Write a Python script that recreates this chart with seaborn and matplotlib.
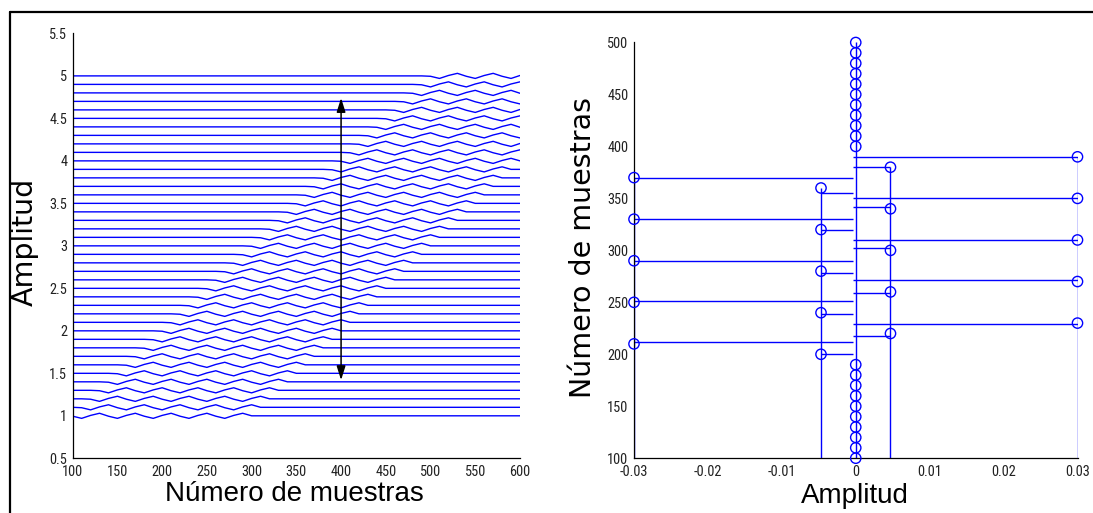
import numpy as np
import pandas as pd
import matplotlib
matplotlib.use("Agg")
import matplotlib.pyplot as plt
from matplotlib.lines import Line2D
from matplotlib import font_manager as fm
import seaborn as sns

# ---------------- data ----------------
# right panel: sampled signal (sample number -> amplitude)
sample_n = [100, 110, 120, 130, 140, 150, 160, 170, 180, 190,
            200, 210, 220, 230, 240, 250, 260, 270, 280, 290,
            300, 310, 320, 330, 340, 350, 360, 370, 380, 390,
            400, 410, 420, 430, 440, 450, 460, 470, 480, 490, 500]
sample_amp = [0, 0, 0, 0, 0, 0, 0, 0, 0, 0,
              -0.0047, -0.03, 0.0047, 0.03, -0.0047, -0.03, 0.0047, 0.03, -0.0047, -0.03,
              0.0047, 0.03, -0.0047, -0.03, 0.0047, 0.03, -0.0047, -0.03, 0.0047, 0.03,
              0, 0, 0, 0, 0, 0, 0, 0, 0, 0, 0]
# vertical position of the horizontal stems drawn for the non-zero samples
stem_line_y = [200, 212, 218, 229, 239, 251, 259, 271, 278.5, 290,
               302.5, 310, 320, 330, 342, 350, 355, 370, 380, 390]

# left panel: delayed copies of the signal, one per level
trace_level = [1.0, 1.1, 1.2, 1.3, 1.4, 1.5, 1.6, 1.7, 1.8, 1.9,
               2.0, 2.1, 2.2, 2.3, 2.4, 2.5, 2.6, 2.7, 2.8, 2.9,
               3.0, 3.1, 3.2, 3.3, 3.4, 3.5, 3.6, 3.7, 3.8, 3.9,
               4.0, 4.1, 4.2, 4.3, 4.4, 4.5, 4.6, 4.7, 4.8, 4.9, 5.0]
trace_start = [100, 110, 120, 130, 140, 150, 160, 170, 180, 190,
               200, 210, 220, 230, 240, 250, 260, 270, 280, 290,
               300, 310, 320, 330, 340, 350, 360, 370, 380, 390,
               400, 410, 420, 430, 440, 450, 460, 470, 480, 490, 500]
left_x_grid = list(range(100, 601, 10))
signal_first_n = 200   # first non-zero sample of the signal

arrow_x = 400
arrow_y = [1.42, 4.74]

left_xticks = [100, 150, 200, 250, 300, 350, 400, 450, 500, 550, 600]
left_yticks = [0.5, 1, 1.5, 2, 2.5, 3, 3.5, 4, 4.5, 5, 5.5]
left_yticklabels = ["0.5", "1", "1.5", "2", "2.5", "3", "3.5", "4", "4.5", "5", "5.5"]
right_xticks = [-0.03, -0.02, -0.01, 0, 0.01, 0.02, 0.03]
right_xticklabels = ["-0.03", "-0.02", "-0.01", "0", "0.01", "0.02", "0.03"]
right_yticks = [100, 150, 200, 250, 300, 350, 400, 450, 500]

xlabel_left = "Número de muestras"
ylabel_left = "Amplitud"
xlabel_right = "Amplitud"
ylabel_right = "Número de muestras"

# ---------------- build tables ----------------
amp_lookup = dict(zip(sample_n, sample_amp))
rows = []
for k, (lvl, st) in enumerate(zip(trace_level, trace_start)):
    for x in left_x_grid:
        m = x - st + signal_first_n
        rows.append({"line": k, "n": x, "y": lvl + amp_lookup.get(m, 0.0)})
df_left = pd.DataFrame(rows)

df_right = pd.DataFrame({"n": sample_n, "amp": sample_amp})
nz = df_right[df_right["amp"] != 0].reset_index(drop=True)
nz["stem_y"] = stem_line_y

# ---------------- style ----------------
sns.set_theme(style="white")
plt.rcParams["font.family"] = ["Liberation Sans", "DejaVu Sans"]
plt.rcParams["axes.linewidth"] = 0.9

# look for a narrow / condensed sans for the tick labels
def find_narrow():
    prefs = []
    for f in fm.fontManager.ttflist:
        nm = f.name
        st = str(f.stretch)
        is_narrow = ("Narrow" in nm or "Condensed" in nm or "Cond" in nm or
                     st in ("condensed", "semi-condensed", "extra-condensed", "ultra-condensed")
                     or (st.isdigit() and int(st) < 500))
        if not is_narrow or f.style != "normal":
            continue
        w = f.weight if isinstance(f.weight, int) else 400
        if w not in (400, "normal") and w != 400:
            continue
        rank = 5
        if "Liberation Sans Narrow" in nm:
            rank = 0
        elif "Arial" in nm:
            rank = 1
        elif "Roboto" in nm:
            rank = 2
        elif "DejaVu Sans" in nm:
            rank = 3
        elif "Open Sans" in nm or "Noto Sans" in nm:
            rank = 4
        prefs.append((rank, f.fname))
    if prefs:
        prefs.sort()
        return prefs[0][1]
    return None

narrow_path = find_narrow()
if narrow_path:
    tick_fp = fm.FontProperties(fname=narrow_path, size=10.4)
else:
    tick_fp = fm.FontProperties(family=["Liberation Sans", "DejaVu Sans"], size=10.0)

BLUE = (0, 0, 1)
W, H = 1093, 513
fig = plt.figure(figsize=(W / 100, H / 100), dpi=100)
fig.patch.set_facecolor("white")

def px_axes(l, t, r, b):
    return fig.add_axes([l / W, 1 - b / H, (r - l) / W, (b - t) / H])

axL = px_axes(72.7, 33.4, 520, 458.3)
axR = px_axes(634, 42.5, 1077.5, 458.2)

# ---------------- left panel ----------------
sns.lineplot(data=df_left, x="n", y="y", units="line", estimator=None,
             color=BLUE, lw=1.0, ax=axL, legend=False)
axL.annotate("", xy=(arrow_x, arrow_y[1]), xytext=(arrow_x, arrow_y[0]),
             arrowprops=dict(arrowstyle="<|-|>,head_length=0.7,head_width=0.22",
                             color="black", lw=1.1, shrinkA=0, shrinkB=0))
axL.set_xlim(100, 600)
axL.set_ylim(0.5, 5.5)
axL.set_xticks(left_xticks)
axL.set_xticklabels([str(t) for t in left_xticks])
axL.set_yticks(left_yticks)
axL.set_yticklabels(left_yticklabels)

# ---------------- right panel ----------------
base_top = max(sample_n)
axR.vlines(0, min(sample_n), base_top, color=BLUE, lw=1.0)
for v in sorted(set(a for a in sample_amp if a != 0)):
    top = max(n for n, a in zip(sample_n, sample_amp) if a == v)
    axR.vlines(v, min(sample_n), top, color=BLUE, lw=1.0)
axR.hlines(nz["stem_y"], nz["amp"], -0.0004, color=BLUE, lw=1.0)
sns.scatterplot(data=df_right, x="amp", y="n", marker="o", s=55,
                facecolors="none", edgecolor=BLUE, linewidth=1.0,
                ax=axR, legend=False, zorder=3, clip_on=False)
axR.set_xlim(-0.03, 0.03)
axR.set_ylim(100, 500)
axR.set_xticks(right_xticks)
axR.set_xticklabels(right_xticklabels)
axR.set_yticks(right_yticks)
axR.set_yticklabels([str(t) for t in right_yticks])

# ---------------- common axes styling ----------------
for ax in (axL, axR):
    ax.set_facecolor("white")
    for s in ("top", "right"):
        ax.spines[s].set_visible(False)
    for s in ("left", "bottom"):
        ax.spines[s].set_color("black")
    ax.tick_params(axis="both", direction="in", length=5, width=0.8,
                   colors="black", pad=4)
    ax.tick_params(axis="x", pad=5)
    ax.set_xlabel("")
    ax.set_ylabel("")
    for lab in ax.get_xticklabels() + ax.get_yticklabels():
        lab.set_fontproperties(tick_fp)
        lab.set_color("#222222")

# axis labels placed in figure pixel coordinates
fig.text(294 / W, 1 - 494 / H, xlabel_left, ha="center", va="center",
         fontsize=20, family=["Liberation Sans", "DejaVu Sans"], color="black")
fig.text(25 / W, 1 - 242 / H, ylabel_left, ha="center", va="center", rotation=90,
         fontsize=20.5, family=["DejaVu Sans"], color="black")
fig.text(855 / W, 1 - 496 / H, xlabel_right, ha="center", va="center",
         fontsize=20, family=["Liberation Sans", "DejaVu Sans"], color="black")
fig.text(583 / W, 1 - 248 / H, ylabel_right, ha="center", va="center", rotation=90,
         fontsize=20.5, family=["DejaVu Sans"], color="black")

# page frame lines (top and left)
fig.add_artist(Line2D([10 / W, 1], [1 - 12 / H, 1 - 12 / H], transform=fig.transFigure,
                      color="black", lw=1.6))
fig.add_artist(Line2D([10 / W, 10 / W], [0, 1 - 12 / H], transform=fig.transFigure,
                      color="black", lw=1.6))

fig.savefig("out.png", dpi=100, facecolor="white")
